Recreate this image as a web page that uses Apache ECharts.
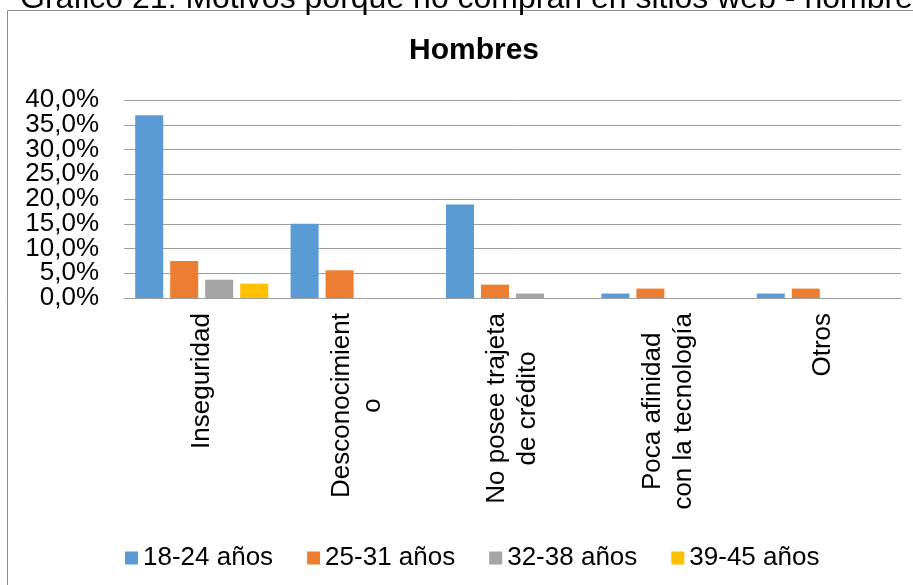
<!DOCTYPE html>
<html lang="es">
<head>
<meta charset="utf-8">
<title>Hombres</title>
<script src="https://cdn.jsdelivr.net/npm/echarts@6/dist/echarts.min.js"></script>
<style>
  html, body { margin: 0; padding: 0; background: #ffffff; }
  #chart { width: 913px; height: 585px; }
</style>
</head>
<body>
<div id="chart"></div>
<script>
// Motivos por los que no compran en sitios web (hombres), por rango de edad
const categories = [
  'Inseguridad',
  'Desconocimient\no',
  'No posee trajeta\nde crédito',
  'Poca afinidad\ncon la tecnología',
  'Otros'
];
const seriesNames = ['18-24 años', '25-31 años', '32-38 años', '39-45 años'];
const edad18a24 = [36.9, 15.0, 18.9, 0.9, 0.9];
const edad25a31 = [7.5, 5.6, 2.7, 1.9, 1.9];
const edad32a38 = [3.7, 0, 0.9, 0, 0];
const edad39a45 = [2.9, 0, 0, 0, 0];
const yTicks = { min: 0, max: 40, step: 5 };

const colors = ['#5B9BD5', '#ED7D31', '#A5A5A5', '#FFC000'];
const FONT = '"Liberation Sans", Arial, Helvetica, sans-serif';

const chart = echarts.init(document.getElementById('chart'), null, { renderer: 'canvas' });

const valueSets = [edad18a24, edad25a31, edad32a38, edad39a45];

function pct(v) { return v.toFixed(1).replace('.', ',') + '%'; }

// The tick labels are taller than the tick spacing, so they are split over two
// overlaid axes sharing one scale: even steps on the first, odd steps on the second.
function isEvenStep(v) { return Math.round((v - yTicks.min) / yTicks.step) % 2 === 0; }

const yLabelStyle = { margin: 25, fontFamily: FONT, fontSize: 26, color: '#000000' };

chart.setOption({
  animation: false,
  backgroundColor: '#ffffff',
  color: colors,
  title: {
    text: 'Hombres',
    left: 469,
    textAlign: 'center',
    top: 31,
    textStyle: { fontFamily: FONT, fontSize: 30, fontWeight: 'bold', color: '#000000' }
  },
  graphic: [
    {
      type: 'rect',
      shape: { x: 7.5, y: 10.5, width: 1000, height: 1000 },
      style: { fill: 'none', stroke: '#8c8c8c', lineWidth: 1 },
      silent: true,
      z: 0
    },
    {
      type: 'text',
      x: 20,
      y: -1,
      style: {
        text: 'Gráfico 21: Motivos porque no compran en sitios web - hombres',
        font: '32px ' + FONT,
        fill: '#000000',
        textAlign: 'left',
        textVerticalAlign: 'middle'
      },
      silent: true,
      z: 1
    }
  ],
  legend: {
    data: seriesNames,
    left: 120,
    top: 540,
    icon: 'rect',
    itemWidth: 13,
    itemHeight: 13,
    itemGap: 34,
    textStyle: { fontFamily: FONT, fontSize: 26, color: '#000000' }
  },
  grid: { left: 124, right: 12, top: 100, bottom: 287, containLabel: false },
  xAxis: {
    type: 'category',
    data: categories,
    axisLine: { show: true, lineStyle: { color: '#9e9e9e', width: 1 } },
    axisTick: { show: false },
    axisLabel: {
      rotate: 90,
      margin: 15,
      interval: 0,
      hideOverlap: false,
      formatter: function (v) {
        return v.split('\n').map(function (s) { return '{c|' + s + '}'; }).join('\n');
      },
      rich: {
        c: { fontFamily: FONT, fontSize: 26, lineHeight: 31, color: '#000000', align: 'center' }
      }
    }
  },
  yAxis: [
    {
      type: 'value',
      position: 'left',
      min: yTicks.min,
      max: yTicks.max,
      interval: yTicks.step,
      axisLine: { show: false },
      axisTick: { show: false },
      splitLine: { show: true, lineStyle: { color: '#9e9e9e', width: 1 } },
      axisLabel: Object.assign({}, yLabelStyle, {
        showMinLabel: true,
        showMaxLabel: true,
        formatter: function (v) { return isEvenStep(v) ? pct(v) : ''; }
      })
    },
    {
      type: 'value',
      position: 'left',
      min: yTicks.min,
      max: yTicks.max,
      interval: yTicks.step,
      axisLine: { show: false },
      axisTick: { show: false },
      splitLine: { show: false },
      axisLabel: Object.assign({}, yLabelStyle, {
        showMinLabel: false,
        showMaxLabel: false,
        formatter: function (v) { return isEvenStep(v) ? '' : pct(v); }
      })
    }
  ],
  series: seriesNames.map(function (name, i) {
    return {
      name: name,
      type: 'bar',
      yAxisIndex: 0,
      data: valueSets[i],
      barWidth: 28,
      barGap: '25%',
      itemStyle: { color: colors[i] }
    };
  })
});
</script>
</body>
</html>
